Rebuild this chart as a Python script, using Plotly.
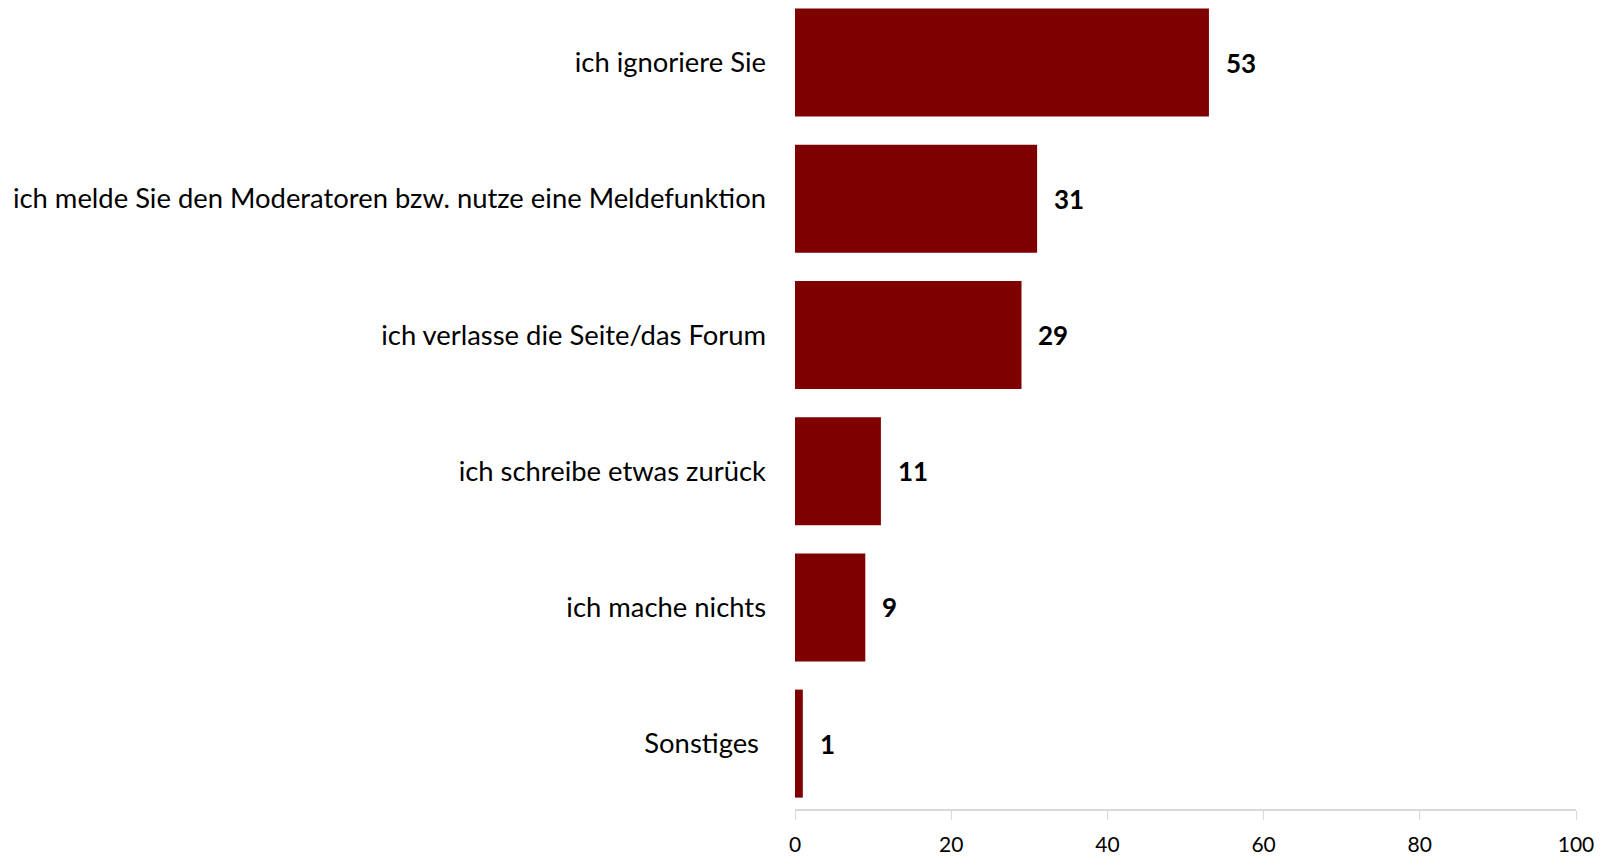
import plotly.graph_objects as go

# Data (bottom to top, as drawn on the category axis)
categories = [
    "Sonstiges\u00a0",
    "ich mache nichts",
    "ich schreibe etwas zurück",
    "ich verlasse die Seite/das Forum",
    "ich melde Sie den Moderatoren bzw. nutze eine Meldefunktion",
    "ich ignoriere Sie",
]
values = [1, 9, 11, 29, 31, 53]
x_ticks = [0, 20, 40, 60, 80, 100]

bar_color = "#7f0000"
font_family = "Lato, 'Open Sans', sans-serif"

fig = go.Figure()

fig.add_trace(go.Bar(
    x=values,
    y=categories,
    orientation="h",
    marker=dict(color=bar_color, line=dict(width=0)),
    hoverinfo="x+y",
))

# Bold value labels to the right of each bar
for cat, val in zip(categories, values):
    fig.add_annotation(
        x=val, y=cat,
        text=f"<b>{val}</b>",
        showarrow=False,
        xanchor="left",
        xshift=15,
        font=dict(size=26, color="black", family=font_family),
    )

fig.update_layout(
    width=1616,
    height=857,
    plot_bgcolor="white",
    paper_bgcolor="white",
    margin=dict(l=795, r=40, t=0, b=48),
    bargap=0.207,
    showlegend=False,
    font=dict(family=font_family, color="black"),
    xaxis=dict(
        range=[0, 100],
        tickvals=x_ticks,
        ticks="outside",
        ticklen=9,
        tickcolor="#d9d9d9",
        showline=True,
        linecolor="#d9d9d9",
        linewidth=1.5,
        showgrid=False,
        zeroline=False,
        tickfont=dict(size=21, color="black"),
        ticklabelstandoff=7,
        fixedrange=True,
    ),
    yaxis=dict(
        categoryorder="array",
        categoryarray=categories,
        range=[-0.48, 5.459],
        showline=False,
        showgrid=False,
        ticks="",
        tickfont=dict(size=27.4, color="black"),
        ticklabelstandoff=28,
        fixedrange=True,
    ),
)

# drop the default page margin so the figure sits flush with the window
fig.write_html(
    "out.html",
    config={"displayModeBar": False},
    post_script="document.body.style.margin='0';",
)
